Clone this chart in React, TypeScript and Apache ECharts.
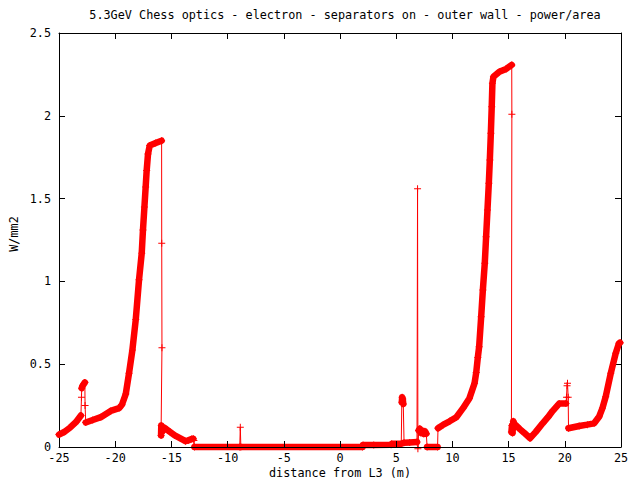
import React, { useEffect, useRef } from "react";
import * as echarts from "echarts";

const TITLE = "5.3GeV Chess optics - electron - separators on - outer wall - power/area";
const X_NAME = "distance from L3 (m)";
const Y_NAME = "W/mm2";
const FONT = "DejaVu Sans Mono";

// Trace pieces, in order along x. "dense" pieces are heavily sampled (thick band);
// the others are sparse points (thin line with "+" markers).
const rampLeft = [[-25, 0.075], [-24.5, 0.092], [-24, 0.118], [-23.5, 0.15], [-23.05, 0.19]];
const jumpA = [[-23.0, 0.3]];
const capA = [[-22.98, 0.355], [-22.9, 0.37], [-22.8, 0.38], [-22.7, 0.39]];
const jumpB = [[-22.68, 0.25]];
const peakLeft = [
  [-22.62, 0.148], [-22, 0.163], [-21.28, 0.18], [-20.4, 0.218], [-19.65, 0.235], [-19.4, 0.255],
  [-19.06, 0.32], [-18.77, 0.445], [-18.47, 0.586], [-18.17, 0.77], [-17.88, 1.01], [-17.64, 1.17],
  [-17.53, 1.31], [-17.4, 1.45], [-17.29, 1.57], [-17.2, 1.67], [-17.08, 1.77], [-16.93, 1.82],
  [-16.4, 1.835], [-15.87, 1.85],
];
const dropLeft = [[-15.86, 1.23], [-15.84, 0.6]];
const tailLeft = [
  [-15.92, 0.07], [-15.9, 0.13], [-15.82, 0.09], [-15.75, 0.12], [-15.6, 0.115], [-15.4, 0.105],
  [-15.1, 0.09], [-14.7, 0.07], [-14.2, 0.052], [-13.75, 0.035], [-13.5, 0.04], [-13.2, 0.048], [-13.05, 0.05],
];
const stepDown = [[-13.0, 0.04]];
const zeroA = [[-12.95, 0], [-8.92, 0]];
const spikeSmall = [[-8.87, 0.12]];
const zeroB = [[-8.82, 0], [2.0, 0]];
const lowA = [[2.05, 0.012], [3.0, 0.012], [4.55, 0.013], [4.6, 0.02], [5.45, 0.02]];
const capB = [[5.5, 0.27], [5.53, 0.3], [5.58, 0.29], [5.63, 0.26]];
const lowB = [[5.7, 0.025], [6.2, 0.027], [6.85, 0.03]];
const spikeTall = [[6.9, 1.56], [6.93, -0.01]];
const bumpC = [[7.0, 0.1], [7.1, 0.11], [7.2, 0.085], [7.3, 0.1], [7.45, 0.08], [7.55, 0.095], [7.68, 0.08]];
const zeroC = [[7.75, 0], [8.68, 0]];
const peakRight = [
  [8.72, 0.113], [9.2, 0.135], [9.75, 0.155], [10.35, 0.18], [10.93, 0.233], [11.52, 0.295],
  [11.97, 0.385], [12.12, 0.45], [12.26, 0.54], [12.38, 0.606], [12.56, 0.787], [12.71, 0.948],
  [12.88, 1.109], [13.0, 1.27], [13.12, 1.431], [13.24, 1.592], [13.33, 1.733], [13.42, 1.894],
  [13.5, 2.055], [13.56, 2.196], [13.65, 2.236], [14.18, 2.266], [14.78, 2.283], [15.28, 2.307],
];
const dropRight = [[15.29, 2.01]];
const valleyRight = [
  [15.25, 0.09], [15.3, 0.13], [15.35, 0.085], [15.42, 0.155], [15.5, 0.14], [15.66, 0.13],
  [16.0, 0.108], [16.4, 0.085], [16.9, 0.053], [17.4, 0.09], [18.03, 0.143], [18.5, 0.18],
  [18.91, 0.217], [19.5, 0.262], [20.1, 0.262],
];
const capC = [[20.15, 0.3], [20.2, 0.37], [20.24, 0.385], [20.3, 0.3]];
const rampRight = [
  [20.33, 0.113], [21.28, 0.127], [22.0, 0.135], [22.61, 0.143], [23.05, 0.183], [23.35, 0.235],
  [23.64, 0.304], [24.09, 0.445], [24.53, 0.566], [24.82, 0.626], [24.92, 0.63],
];

const pieces: [number[][], boolean][] = [
  [rampLeft, true], [jumpA, false], [capA, true], [jumpB, false], [peakLeft, true], [dropLeft, false],
  [tailLeft, true], [stepDown, false], [zeroA, true], [spikeSmall, false], [zeroB, true], [lowA, true],
  [capB, true], [lowB, true], [spikeTall, false], [bumpC, true], [zeroC, true], [peakRight, true],
  [dropRight, false], [valleyRight, true], [capC, false], [rampRight, true],
];

const X_MIN = -25, X_MAX = 25, X_STEP = 5;
const Y_MIN = 0, Y_MAX = 2.5, Y_STEP = 0.5;

const PLUS = "path://M0,3H7V4H0Z M3,0H4V7H3Z";
const RED = "#ff0000";

export default function App() {
  const ref = useRef<HTMLDivElement>(null);
  useEffect(() => {
    if (!ref.current) return;
    const chart = echarts.init(ref.current, undefined, { renderer: "svg" });
    const allPoints = pieces.flatMap(([p]) => p);
    const denseSeries = pieces
      .filter(([, dense]) => dense)
      .map(([p]) => ({
        type: "line",
        data: p,
        symbol: "none",
        clip: false,
        silent: true,
        z: 3,
        lineStyle: { width: 6.5, color: RED, cap: "round", join: "round" },
      }));
    const axisCommon = {
      type: "value",
      axisLine: { show: true, onZero: false, lineStyle: { color: "#000", width: 1 } },
      axisTick: { show: true, inside: true, length: 6, lineStyle: { color: "#000" } },
      splitLine: { show: false },
    };
    const labelStyle = { color: "#000", fontFamily: FONT, fontSize: 11.8, lineHeight: 11 };
    chart.setOption({
      animation: false,
      backgroundColor: "#fff",
      title: {
        text: TITLE,
        left: 340,
        top: 4,
        textAlign: "center",
        textStyle: { fontFamily: FONT, fontSize: 11.8, fontWeight: "normal", color: "#000" },
      },
      grid: { left: 59, right: 19, top: 33, bottom: 33, containLabel: false },
      xAxis: [
        { ...axisCommon, position: "bottom", min: X_MIN, max: X_MAX, interval: X_STEP, z: 5,
          axisLabel: { ...labelStyle, margin: 5.5 } },
        { ...axisCommon, position: "top", min: X_MIN, max: X_MAX, interval: X_STEP, axisLabel: { show: false } },
      ],
      yAxis: [
        { ...axisCommon, position: "left", min: Y_MIN, max: Y_MAX, interval: Y_STEP,
          axisLabel: { ...labelStyle, margin: 8 } },
        { ...axisCommon, position: "right", min: Y_MIN, max: Y_MAX, interval: Y_STEP, axisLabel: { show: false } },
      ],
      graphic: [
        { type: "text", x: 340, y: 473, style: { text: X_NAME, fontFamily: FONT, fontSize: 11.8, fill: "#000", align: "center", verticalAlign: "middle" } },
        { type: "text", x: 13.5, y: 234, rotation: Math.PI / 2, style: { text: Y_NAME, fontFamily: FONT, fontSize: 11.8, fill: "#000", align: "center", verticalAlign: "middle" } },
      ],
      series: [
        {
          type: "line",
          data: allPoints,
          symbol: PLUS,
          symbolSize: 7,
          showAllSymbol: true,
          clip: false,
          z: 2,
          itemStyle: { color: RED },
          lineStyle: { width: 1, color: RED },
        },
        ...denseSeries,
      ],
    });
    return () => chart.dispose();
  }, []);
  return <div ref={ref} style={{ position: "fixed", left: 0, top: 0, width: 640, height: 480 }} />;
}
